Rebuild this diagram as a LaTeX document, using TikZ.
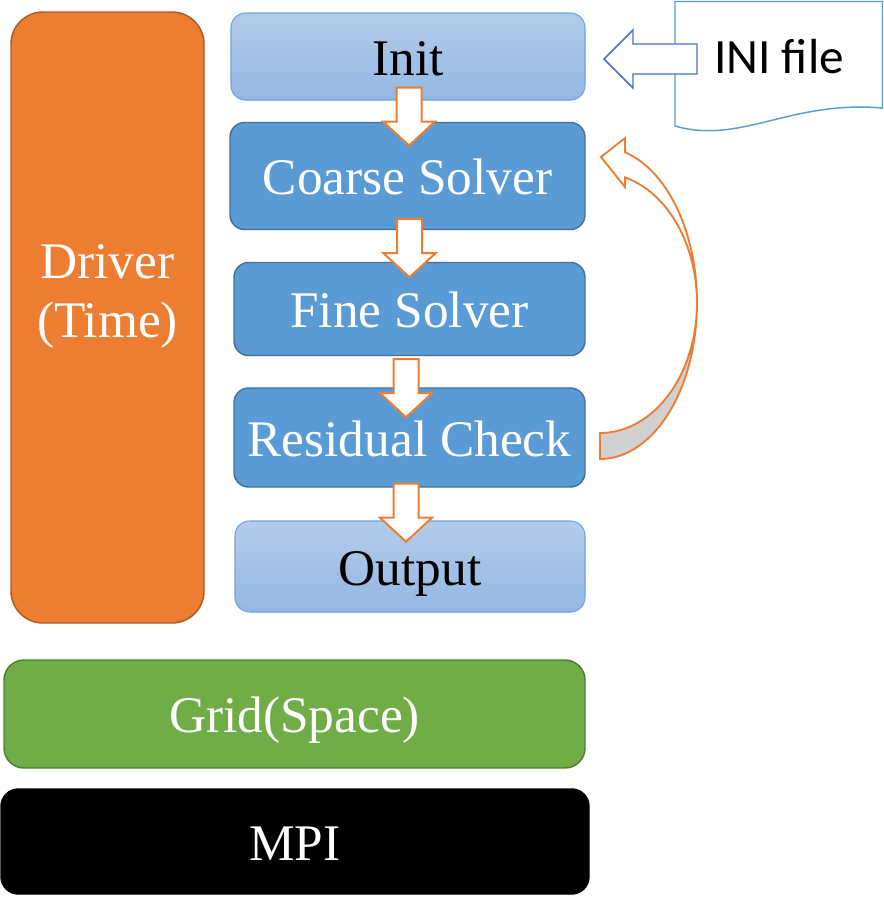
\documentclass[tikz,border=0pt]{standalone}
\usepackage{fontspec}
\setmainfont{Liberation Serif}
\newfontfamily\inifont{Carlito}
\usetikzlibrary{calc}
\definecolor{orfill}{HTML}{ED7D31}
\definecolor{ordraw}{HTML}{AE5A21}
\definecolor{bfill}{HTML}{5B9BD5}
\definecolor{bdraw}{HTML}{41719C}
\definecolor{ltop}{HTML}{B3CCEA}
\definecolor{lbot}{HTML}{94B7E3}
\definecolor{ldraw}{HTML}{6FA3DA}
\definecolor{gfill}{HTML}{70AD47}
\definecolor{gdraw}{HTML}{507E32}
\definecolor{arrblue}{HTML}{4472C4}
\definecolor{shgrey}{HTML}{D0D0D0}
\begin{document}
\begin{tikzpicture}[x=0.75pt,y=-0.75pt,
  box/.style={rounded corners=11pt, line width=1.1pt, inner sep=0pt,
    font=\fontsize{38.5}{44}\selectfont, text height=28pt, text depth=0pt},
  darkbox/.style={box, fill=bfill, draw=bdraw, text=white},
  lightbox/.style={box, top color=ltop, bottom color=lbot, draw=ldraw, line width=0.8pt, text=black},
  blkarrow/.style={fill=white, draw=orfill, line width=1.5pt, line join=miter},
  curvearrow/.style={draw=orfill, line width=1.4pt, line join=miter},
  downblk/.pic={\path[blkarrow] (-12.5,0) -- (12.5,0) -- (12.5,34) -- (26,34) -- (0,58) -- (-26,34) -- (-12.5,34) -- cycle;}
]
\useasboundingbox (0,0) rectangle (884,901);

% Driver
\node[box, rounded corners=24pt, fill=orfill, draw=ordraw,
  minimum width=193*0.75pt, minimum height=611*0.75pt,
  label={[font=\fontsize{38.5}{44}\selectfont, text=white, align=center, yshift=16pt]center:Driver\\(Time)}]
  (driver) at (107.5,317.5) {};

% stack of boxes
\node[lightbox, minimum width=354*0.75pt, minimum height=87*0.75pt] (init) at (408,56.5) {Init};
\node[darkbox, minimum width=355*0.75pt, minimum height=107*0.75pt] (coarse) at (407.5,176) {Coarse Solver};
\node[darkbox, minimum width=351*0.75pt, minimum height=93*0.75pt] (fine) at (409.5,309) {Fine Solver};
\node[darkbox, minimum width=351*0.75pt, minimum height=99*0.75pt] (resid) at (409.5,437.5) {Residual Check};
\node[lightbox, minimum width=350*0.75pt, minimum height=91*0.75pt] (output) at (410,566.5) {Output};

\node[box, rounded corners=15pt, fill=gfill, draw=gdraw, text=white,
  minimum width=581*0.75pt, minimum height=108*0.75pt] (grid) at (294.5,714) {Grid(Space)};
\node[box, rounded corners=13pt, fill=black, draw=black, text=white,
  minimum width=588*0.75pt, minimum height=105*0.75pt] (mpi) at (295,841.5) {MPI};

% down block arrows
\pic at ($(init.south)+(1,-13)$) {downblk};
\pic at ($(coarse.south)+(2,-11)$) {downblk};
\pic at ($(fine.south)+(-3.5,3)$) {downblk};
\pic at ($(resid.south)+(-3.5,-4)$) {downblk};

% INI file document
\path[fill=white, draw=bfill, line width=1.1pt]
  (675,1.5) -- (882.5,1.5) -- (882.5,108)
  .. controls (790,100) and (740,145) .. (675,126) -- cycle;
\node[font=\inifont\fontsize{37}{44}\selectfont, inner sep=0pt] (ini) at (779,57) {INI file};

% left block arrow
\path[fill=white, draw=arrblue, line width=1.1pt, line join=miter]
  (697,44) -- (633,44) -- (633,30) -- (604,59) -- (633,88) -- (633,74) -- (697,74) -- cycle;

% curved arrow (residual back to coarse)
\path[curvearrow, fill=shgrey]
  plot[variable=\t, domain=0:-90, samples=40] ({600+97*cos(\t)}, {303-156*sin(\t)})
  -- plot[variable=\t, domain=-90:0, samples=40] ({600+97*cos(\t)}, {303-130*sin(\t)}) -- cycle;
\path[curvearrow, fill=white]
  plot[variable=\t, domain=75:0, samples=40] ({600+97*cos(\t)}, {303-156*sin(\t)})
  -- plot[variable=\t, domain=0:75, samples=40] ({600+97*cos(\t)}, {303-130*sin(\t)})
  -- (625,187) -- (601,157) -- (625,138) -- cycle;
\end{tikzpicture}
\end{document}
